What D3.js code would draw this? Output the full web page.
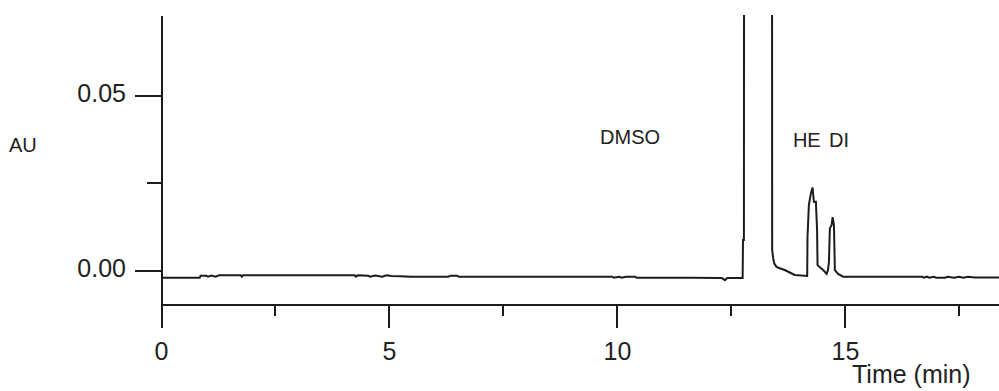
<!DOCTYPE html>
<html>
<head>
<meta charset="utf-8">
<script src="https://cdn.jsdelivr.net/npm/d3@7"></script>
<style>
  html, body { margin: 0; padding: 0; background: #fff; }
  svg { display: block; }
  text { font-family: "Liberation Sans", Arial, sans-serif; fill: #222; }
</style>
</head>
<body>
<div id="chart"></div>
<script>
// chromatogram trace: retention time (min) and absorbance (AU)
const times = [
  0, 0.85, 0.87, 1.0, 1.03, 1.1, 1.2, 1.27, 1.75, 1.77, 1.8,
  4.25, 4.27, 4.32, 4.55, 4.58, 4.7, 4.85, 4.95, 5.05, 5.25, 5.5, 6.3, 6.35, 6.5, 6.53,
  9.9, 9.93, 10.05, 10.1, 10.2, 10.4, 10.43, 11.6, 12.3, 12.37, 12.42, 12.74,
  12.757, 12.765, 12.785, 12.80, 13.39, 13.405, 13.428, 13.45, 13.50, 13.57, 13.68, 13.79, 13.90, 14.173,
  14.18, 14.21, 14.254, 14.29, 14.32, 14.364, 14.39, 14.40, 14.45, 14.524, 14.60,
  14.63, 14.65, 14.67, 14.71, 14.73, 14.76, 14.78, 14.85, 14.96,
  16.7, 16.73, 16.8, 16.85, 16.95, 17.0, 17.2, 17.25, 17.4, 17.5, 17.6, 17.7, 17.85, 18.4
];
const absorbance = [
  -0.0022, -0.0022, -0.0016, -0.0016, -0.0019, -0.0016, -0.0019, -0.0015, -0.0015, -0.0019, -0.0015,
  -0.0015, -0.0019, -0.0015, -0.0016, -0.0019, -0.0016, -0.0019, -0.0015, -0.0017, -0.0018, -0.0019, -0.0019, -0.0016, -0.0016, -0.0019,
  -0.0019, -0.0022, -0.0019, -0.0022, -0.0019, -0.0019, -0.0022, -0.0022, -0.0023, -0.0029, -0.0023, -0.0023,
  -0.0023, 0.0086, 0.0086, 0.40, 0.40, 0.0057, 0.0033, 0.0019, 0.0009, 0.0005, 0.0, -0.0007, -0.0014, -0.0017,
  0.0095, 0.0186, 0.0219, 0.0236, 0.0195, 0.0195, 0.0114, 0.0014, 0.0008, 0.0, -0.0011,
  0.0, 0.0024, 0.0119, 0.0129, 0.0151, 0.0129, 0.0, -0.0011, -0.0019,
  -0.0019, -0.0022, -0.0019, -0.0022, -0.0019, -0.0022, -0.0022, -0.0019, -0.0022, -0.0019, -0.0022, -0.0019, -0.0021, -0.0021
];

const xMajorTicks = [0, 5, 10, 15];
const xMinorTicks = [2.5, 7.5, 12.5, 17.5];
const yMajorTicks = [0, 0.05];
const yMinorTicks = [0.025];
const yTickLabels = ['0.00', '0.05'];

// peak annotations: name, time at left edge of label, AU at baseline of label
const peakNames = ['DMSO', 'HE', 'DI'];
const peakTimes = [9.63, 13.86, 14.65];
const peakLevels = [0.0360, 0.0351, 0.0351];

const width = 999;
const height = 391;
const margin = {top: 15, right: 0, bottom: 87, left: 161};
const ink = '#1c1c1c';

const svg = d3.select('#chart')
  .append('svg')
  .attr('width', width)
  .attr('height', height);

const x = d3.scaleLinear()
  .domain([0, 18.38])
  .range([margin.left, width - margin.right]);

const y = d3.scaleLinear()
  .domain([-0.00971, 0.0729])
  .range([height - margin.bottom, margin.top]);

const trace = times.map((t, i) => ({time: t, au: absorbance[i]}));

// clip so the DMSO peak runs off the top
svg.append('clipPath')
  .attr('id', 'plot-clip')
  .append('rect')
  .attr('x', margin.left)
  .attr('y', margin.top)
  .attr('width', width - margin.left - margin.right)
  .attr('height', height - margin.top - margin.bottom);

const line = d3.line()
  .x(d => x(d.time))
  .y(d => y(d.au));

svg.append('path')
  .datum(trace)
  .attr('clip-path', 'url(#plot-clip)')
  .attr('fill', 'none')
  .attr('stroke', ink)
  .attr('stroke-width', 2)
  .attr('stroke-linejoin', 'miter')
  .attr('d', line);

function styleAxis(g) {
  g.selectAll('path, line')
    .attr('stroke', ink)
    .attr('stroke-width', 2)
    .attr('shape-rendering', 'crispEdges');
  g.selectAll('text')
    .attr('font-size', '25px')
    .attr('font-family', '"Liberation Sans", Arial, sans-serif')
    .attr('fill', ink);
}

// x axis
svg.append('g')
  .attr('transform', `translate(0,${y.range()[0]})`)
  .call(d3.axisBottom(x).tickValues(xMinorTicks).tickSize(12).tickSizeOuter(0).tickFormat(''))
  .call(styleAxis);

svg.append('g')
  .attr('transform', `translate(0,${y.range()[0]})`)
  .call(d3.axisBottom(x).tickValues(xMajorTicks).tickSize(24).tickSizeOuter(0).tickPadding(14).tickFormat(d3.format('d')))
  .call(styleAxis);

// y axis
svg.append('g')
  .attr('transform', `translate(${margin.left},0)`)
  .call(d3.axisLeft(y).tickValues(yMinorTicks).tickSize(14).tickSizeOuter(0).tickFormat(''))
  .call(styleAxis);

svg.append('g')
  .attr('transform', `translate(${margin.left},0)`)
  .call(d3.axisLeft(y).tickValues(yMajorTicks).tickSize(26).tickSizeOuter(0).tickPadding(9)
    .tickFormat((d, i) => yTickLabels[i]))
  .call(styleAxis)
  .call(g => g.selectAll('text').attr('dy', '0.27em'));

// axis titles
svg.append('text')
  .attr('x', 9)
  .attr('y', 152)
  .attr('font-size', '20px')
  .text('AU');

svg.append('text')
  .attr('x', 852)
  .attr('y', 383)
  .attr('font-size', '25px')
  .text('Time (min)');

// peak labels
svg.append('g')
  .selectAll('text')
  .data(peakNames)
  .enter()
  .append('text')
  .attr('x', (d, i) => x(peakTimes[i]))
  .attr('y', (d, i) => y(peakLevels[i]))
  .attr('font-size', '20px')
  .text(d => d);
</script>
</body>
</html>
